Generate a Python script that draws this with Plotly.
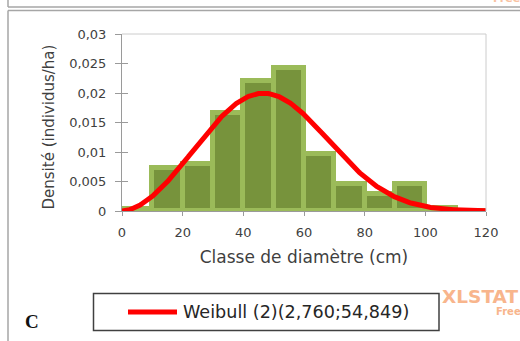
import numpy as np
import plotly.graph_objects as go

# Diameter classes (cm) and observed density per class
class_lower = [0, 10, 20, 30, 40, 50, 60, 70, 80, 90, 100, 110]
class_width = 10
density = [0.0003, 0.0073, 0.0080, 0.0166, 0.0221, 0.0242,
           0.0096, 0.0045, 0.0028, 0.0045, 0.0005, 0.0]

# Fitted two-parameter Weibull (shape; scale)
WEIBULL_SHAPE = 2.760
WEIBULL_SCALE = 54.849

x_ticks = [0, 20, 40, 60, 80, 100, 120]
y_ticks = [0, 0.005, 0.01, 0.015, 0.02, 0.025, 0.03]
y_ticktext = ["0", "0,005", "0,01", "0,015", "0,02", "0,025", "0,03"]

fit_label = "Weibull (2)({};{})".format(
    f"{WEIBULL_SHAPE:.3f}".replace(".", ","),
    f"{WEIBULL_SCALE:.3f}".replace(".", ","),
)

# Weibull density evaluated along the diameter range
curve_x = np.linspace(0, 120, 481)
z = curve_x / WEIBULL_SCALE
curve_y = (WEIBULL_SHAPE / WEIBULL_SCALE) * z ** (WEIBULL_SHAPE - 1) * np.exp(-z ** WEIBULL_SHAPE)

bar_centers = [lo + class_width / 2 for lo in class_lower]

FONT = "DejaVu Sans"
TXT = "#3f3f3f"
AXIS = "#9a9a9a"

# plot-area geometry in pixels
W_FIG, H_FIG = 520, 341
L, R, T, B = 122, 486, 34, 211


def px(x):
    return (x - L) / (R - L)


def py(y):
    return (B - y) / (B - T)


fig = go.Figure()
fig.add_trace(go.Bar(
    x=bar_centers, y=density, width=class_width,
    marker=dict(color="#77933c", line=dict(color="#9bbb59", width=5)),
    showlegend=False, hoverinfo="skip",
))
fig.add_trace(go.Scatter(
    x=curve_x, y=curve_y, mode="lines",
    line=dict(color="#ff0000", width=5),
    name=fit_label, showlegend=False,
))
# empty trace so the secondary (inner tick) axis gets drawn
fig.add_trace(go.Scatter(x=[], y=[], yaxis="y2", showlegend=False, hoverinfo="skip"))

frame = "#a6a6a6"
shapes = [
    # panel frames
    dict(type="line", xref="paper", yref="paper", x0=px(8), x1=px(8), y0=py(-2), y1=py(7),
         line=dict(color=frame, width=1.5)),
    dict(type="line", xref="paper", yref="paper", x0=px(8), x1=px(522), y0=py(7), y1=py(7),
         line=dict(color=frame, width=1.5)),
    dict(type="line", xref="paper", yref="paper", x0=px(8), x1=px(522), y0=py(10.5), y1=py(10.5),
         line=dict(color=frame, width=1.5)),
    dict(type="line", xref="paper", yref="paper", x0=px(8), x1=px(8), y0=py(10.5), y1=py(345),
         line=dict(color=frame, width=1.5)),
    # plot-area border (top and right)
    dict(type="line", xref="paper", yref="paper", x0=0, x1=1, y0=1, y1=1,
         line=dict(color="#cccccc", width=1)),
    dict(type="line", xref="paper", yref="paper", x0=1, x1=1, y0=0, y1=1,
         line=dict(color="#cccccc", width=1)),
    # legend box
    dict(type="rect", xref="paper", yref="paper", x0=px(93.5), x1=px(439), y0=py(293.5), y1=py(330.5),
         line=dict(color="#404040", width=1.5), fillcolor="rgba(0,0,0,0)"),
    dict(type="line", xref="paper", yref="paper", x0=px(128), x1=px(177), y0=py(312), y1=py(312),
         line=dict(color="#ff0000", width=5)),
]

annotations = [
    dict(text="Densité (individus/ha)", xref="paper", yref="paper", x=px(48), y=py(127.5),
         textangle=-90, showarrow=False, xanchor="center", yanchor="middle",
         font=dict(family=FONT, size=15, color=TXT)),
    dict(text=fit_label, xref="paper", yref="paper", x=px(181), y=py(312),
         showarrow=False, xanchor="left", yanchor="middle",
         font=dict(family=FONT, size=17.6, color="#262626")),
    dict(text="<b>C</b>", xref="paper", yref="paper", x=px(31.5), y=py(321.5),
         showarrow=False, xanchor="center", yanchor="middle",
         font=dict(family="Liberation Serif", size=19, color="#111111")),
    dict(text="<b>XLSTAT</b>", xref="paper", yref="paper", x=px(440), y=py(296.5),
         showarrow=False, xanchor="left", yanchor="middle",
         font=dict(family=FONT, size=18.5, color="#f8b58c")),
    dict(text="<b>Free</b>", xref="paper", yref="paper", x=px(494), y=py(311.5),
         showarrow=False, xanchor="left", yanchor="middle",
         font=dict(family=FONT, size=10, color="#f8b58c")),
    dict(text="<b>Free</b>", xref="paper", yref="paper", x=px(491), y=py(-1),
         showarrow=False, xanchor="left", yanchor="middle",
         font=dict(family=FONT, size=11, color="#f9c2a2")),
]

fig.update_layout(
    width=W_FIG, height=H_FIG,
    margin=dict(l=L, r=W_FIG - R, t=T, b=H_FIG - B, autoexpand=False),
    paper_bgcolor="white", plot_bgcolor="white",
    bargap=0,
    font=dict(family=FONT, color=TXT),
    shapes=shapes, annotations=annotations,
    showlegend=False,
    xaxis=dict(
        range=[0, 120], tickvals=x_ticks, ticktext=[str(v) for v in x_ticks],
        showgrid=False, zeroline=False,
        showline=True, linecolor=AXIS, linewidth=1,
        ticks="outside", ticklen=4, tickcolor=AXIS,
        tickfont=dict(family=FONT, size=13, color=TXT),
        ticklabelstandoff=5,
        title=dict(text="Classe de diamètre (cm)", font=dict(family=FONT, size=17, color=TXT), standoff=12),
        fixedrange=True,
    ),
    yaxis=dict(
        range=[0, 0.03], tickvals=y_ticks, ticktext=y_ticktext,
        showgrid=False, zeroline=False,
        showline=True, linecolor=AXIS, linewidth=1,
        ticks="outside", ticklen=6, tickcolor=AXIS,
        tickfont=dict(family=FONT, size=13, color=TXT),
        ticklabelstandoff=6,
        fixedrange=True,
    ),
    yaxis2=dict(
        range=[0, 0.03], tickvals=y_ticks, overlaying="y", side="left",
        showgrid=False, zeroline=False, showline=False,
        ticks="inside", ticklen=6, tickcolor=AXIS,
        showticklabels=False, fixedrange=True,
    ),
)

fig.write_html("out.html")
